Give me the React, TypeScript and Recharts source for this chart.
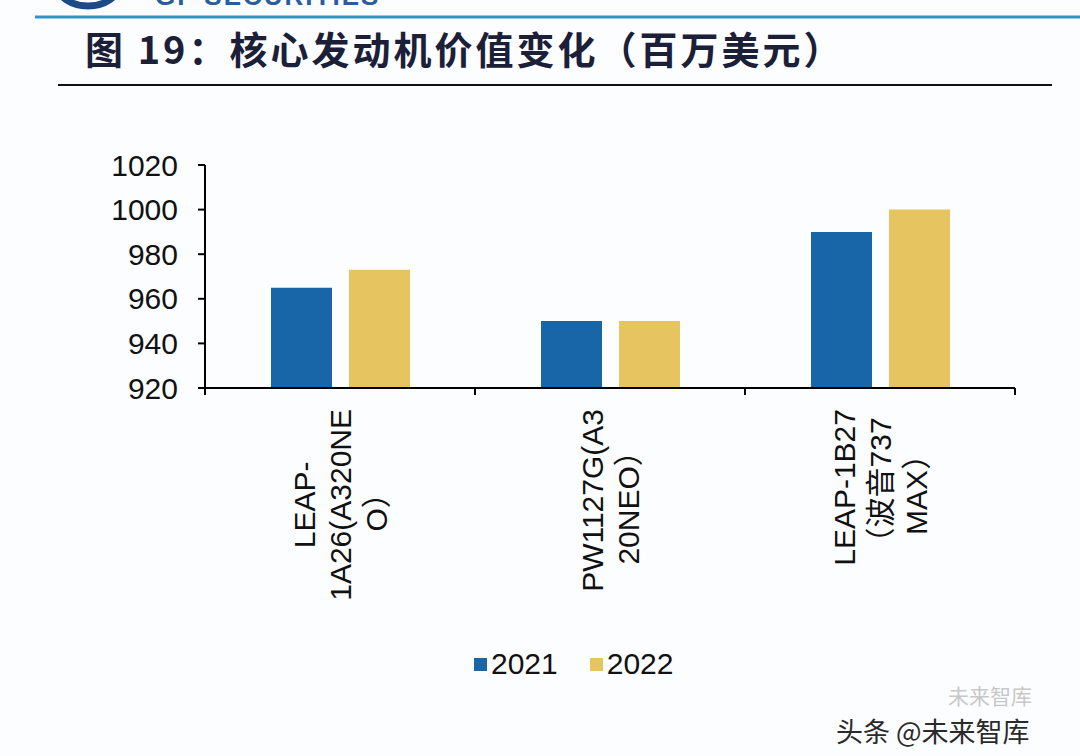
import React from "react"
import { Bar, BarChart, XAxis, YAxis, Legend } from "recharts"

const categoryLines = [
  ["LEAP-", "1A26(A320NE", "O）"],
  ["PW1127G(A3", "20NEO）"],
  ["LEAP-1B27", "（波音737", "MAX）"],
]
const categories = categoryLines.map((lines) => lines.join(""))
const values2021 = [965, 950, 990]
const values2022 = [973, 950, 1000]
const yTicks = [920, 940, 960, 980, 1000, 1020]

const data = categories.map((name, i) => ({
  name,
  v2021: values2021[i],
  v2022: values2022[i],
}))

const W = 1080
const H = 756
const MARGIN = { top: 165, right: 65, bottom: 0, left: 0 }
const Y_WIDTH = 205
const BAND = (W - Y_WIDTH - MARGIN.right) / categories.length
const FONT = '"Liberation Sans", Arial, "Noto Sans CJK SC", sans-serif'
const FONT_SIZE = 30
const LINE_H = 36

let ctx: CanvasRenderingContext2D | null = null
function textWidth(s: string) {
  if (!ctx) ctx = document.createElement("canvas").getContext("2d")
  if (!ctx) return s.length * FONT_SIZE * 0.6
  ctx.font = `${FONT_SIZE}px ${FONT}`
  return ctx.measureText(s).width
}

// category label, rotated, lines centred on the longest one
function CategoryTick(props: any) {
  const { x, y, index, payload } = props
  const lines: string[] = categoryLines[index] ?? [payload.value]
  const longest = Math.max(...lines.map(textWidth))
  const cy = y + 21 + longest / 2
  const n = lines.length
  return (
    <g>
      {index === 0 && <line x1={x - BAND / 2} x2={x - BAND / 2} y1={y} y2={y + 7} stroke="#000" strokeWidth={2} />}
      <line x1={x + BAND / 2} x2={x + BAND / 2} y1={y} y2={y + 7} stroke="#000" strokeWidth={2} />
      <g transform={`translate(${x},${cy}) rotate(-90)`}>
        {lines.map((l, i) => (
          <text
            key={i}
            x={0}
            y={(i - (n - 1) / 2) * LINE_H}
            textAnchor="middle"
            dominantBaseline="central"
            fontFamily={FONT}
            fontSize={FONT_SIZE}
            fill="#111"
          >
            {l}
          </text>
        ))}
      </g>
    </g>
  )
}

function LegendContent(props: any) {
  const items = props.payload ?? []
  return (
    <div style={{ display: "flex", alignItems: "center", fontFamily: FONT, fontSize: FONT_SIZE, color: "#111" }}>
      {items.map((it: any, i: number) => (
        <div key={i} style={{ display: "flex", alignItems: "center", marginRight: 32 }}>
          <span style={{ display: "inline-block", width: 13, height: 13, background: it.color, marginRight: 4 }} />
          <span>{it.value}</span>
        </div>
      ))}
    </div>
  )
}

export default function App() {
  return (
    <div style={{ position: "absolute", left: 0, top: 0, width: W, height: H, background: "#fcfdff", overflow: "hidden" }}>
      {/* header logo remnant */}
      <svg width={W} height={30} style={{ position: "absolute", left: 0, top: 0 }}>
        <ellipse cx={88} cy={-14} rx={30} ry={20} fill="none" stroke="#1b4a86" strokeWidth={7} />
        <text x={155} y={5} fontFamily={FONT} fontWeight="bold" fontSize={26} letterSpacing={2} fill="#2a5d9c">
          GF SECURITIES
        </text>
        <line x1={35} x2={W} y1={17} y2={17} stroke="#2e93c6" strokeWidth={3} />
      </svg>
      <div
        style={{
          position: "absolute",
          left: 85,
          top: 26,
          fontFamily: '"Noto Sans CJK SC", sans-serif',
          fontWeight: 700,
          fontSize: 38,
          lineHeight: "44px",
          letterSpacing: 3,
          color: "#1b2038",
          whiteSpace: "nowrap",
        }}
      >
        图 19：核心发动机价值变化（百万美元）
      </div>
      <div style={{ position: "absolute", left: 58, top: 84, width: 994, height: 2, background: "#111" }} />

      <div style={{ position: "absolute", left: 0, top: 0 }}>
        <BarChart width={W} height={H} data={data} margin={MARGIN} barCategoryGap={66} barGap={17}>
          <XAxis
            dataKey="name"
            height={H - 388}
            interval={0}
            tickSize={0}
            tickMargin={0}
            tickLine={false}
            axisLine={{ stroke: "#000", strokeWidth: 2 }}
            tick={<CategoryTick />}
          />
          <YAxis
            width={Y_WIDTH}
            domain={[920, 1020]}
            ticks={yTicks}
            interval={0}
            tickSize={7}
            tickMargin={20}
            axisLine={{ stroke: "#000", strokeWidth: 2 }}
            tickLine={{ stroke: "#000", strokeWidth: 2 }}
            tick={{ fontFamily: FONT, fontSize: FONT_SIZE, fill: "#111" }}
          />
          <Legend
            verticalAlign="middle"
            align="center"
            layout="horizontal"
            wrapperStyle={{ top: 647, left: 474, width: "auto" }}
            content={<LegendContent />}
          />
          <Bar dataKey="v2021" name="2021" fill="#1865a7" isAnimationActive={false} />
          <Bar dataKey="v2022" name="2022" fill="#e6c560" isAnimationActive={false} />
        </BarChart>
      </div>

      {/* watermark */}
      <div
        style={{
          position: "absolute",
          left: 948,
          top: 680,
          fontFamily: '"Noto Sans CJK SC", sans-serif',
          fontSize: 21,
          color: "#c8c8c8",
          whiteSpace: "nowrap",
        }}
      >
        未来智库
      </div>
      <div
        style={{
          position: "absolute",
          left: 836,
          top: 711,
          fontFamily: '"Noto Sans CJK SC", sans-serif',
          fontSize: 27,
          color: "#2a2a2a",
          whiteSpace: "nowrap",
        }}
      >
        头条 @未来智库
      </div>
    </div>
  )
}
